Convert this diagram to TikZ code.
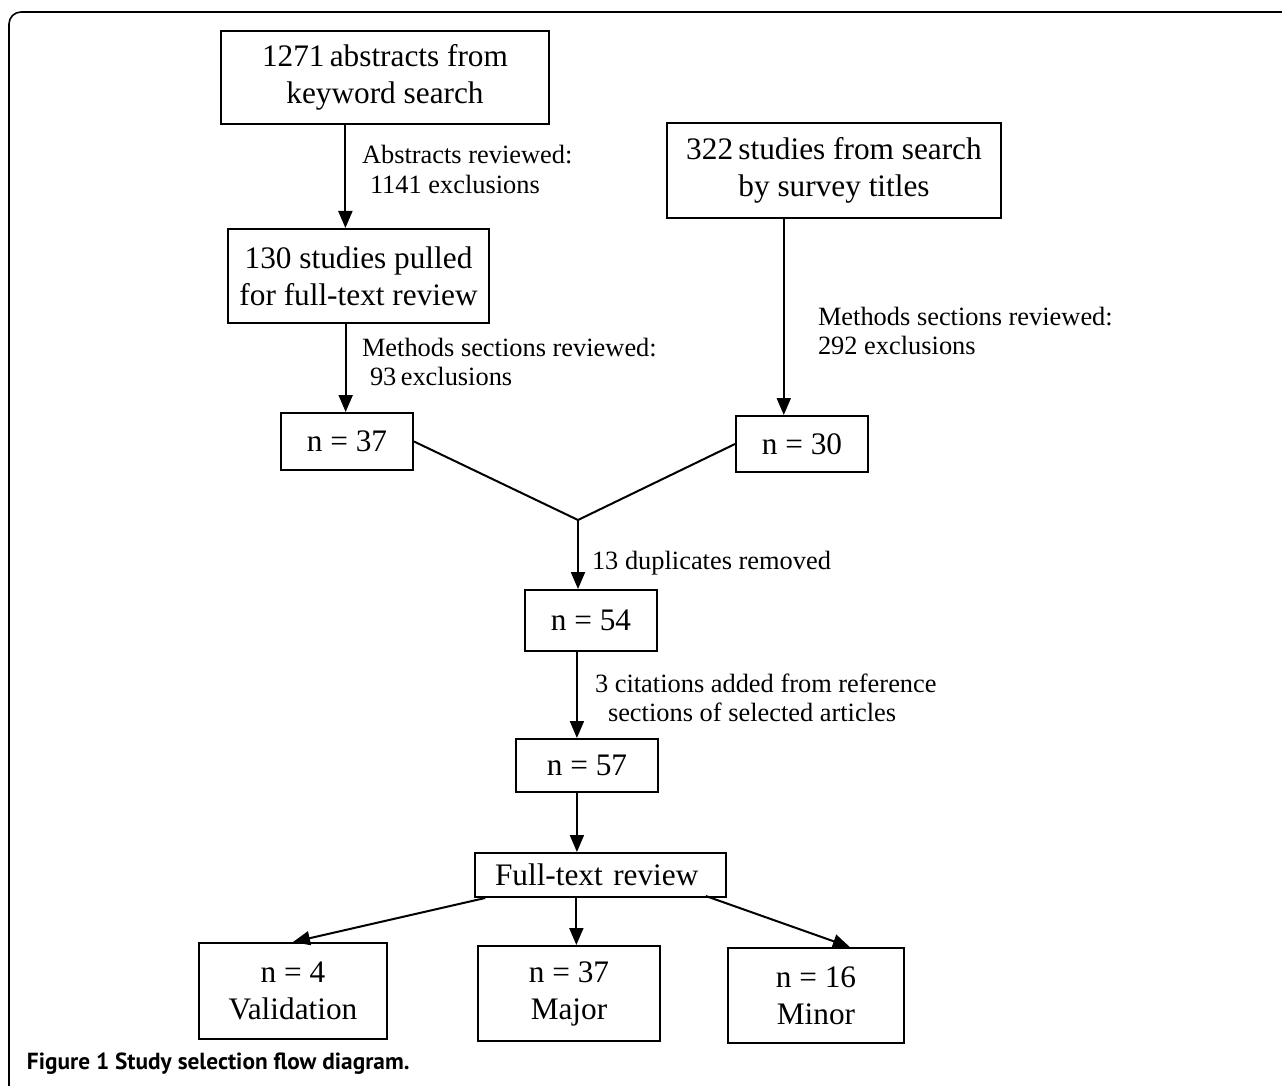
\documentclass[tikz,border=0pt]{standalone}
\usepackage{fontspec}
\setmainfont{Liberation Serif}
\newfontfamily\capfont{PT Sans}
\usetikzlibrary{arrows.meta,calc}
\begin{document}
\begin{tikzpicture}[x=1pt,y=-1pt,
  line width=2pt,
  box/.style={draw, inner sep=0pt, align=center, font=\fontsize{31.3}{37}\selectfont},
  lbl/.style={inner sep=0pt, anchor=west, align=left, font=\fontsize{26.4}{29.5}\selectfont},
  arr/.style={-{Triangle[length=17pt,width=14pt]}}]
\useasboundingbox (0,0) rectangle (1282,1086);
\draw[line width=1.6pt, rounded corners=12pt] (9,1086) -- (9,12) -- (1282,12);

\node[box, minimum width=328, minimum height=93] (A) at (385,77.5) {1271\,abstracts from\\keyword search};
\node[box, minimum width=261, minimum height=94] (B) at (358.5,276) {130 studies pulled\\for full-text review};
\node[box, minimum width=334, minimum height=95] (E) at (834,170.5) {322\,studies from search\\by survey titles};
\node[box, minimum width=132, minimum height=57] (C) at (347,441.5) {n = 37};
\node[box, minimum width=132, minimum height=56] (D) at (802,444) {n = 30};
\node[box, minimum width=132, minimum height=61] (F) at (591,620.5) {n = 54};
\node[box, minimum width=142, minimum height=53] (G) at (587,765.5) {n = 57};
\node[box, minimum width=251, minimum height=44, text width=251, align=left] (H) at (600.5,875) {\hspace*{20pt}Full-text review};
\node[box, minimum width=188, minimum height=96] (I) at (293,991) {n = 4\\Validation};
\node[box, minimum width=182, minimum height=95] (J) at (569,993.5) {n = 37\\Major};
\node[box, minimum width=176, minimum height=95] (K) at (816,995.5) {n = 16\\Minor};

\coordinate (j) at (578,520);

% A -> B
\coordinate (a1) at ($(A.south west)!0.38!(A.south east)$);
\draw[arr] (a1) -- (a1 |- B.north);
\node[lbl] (la) at (361,169.5) {Abstracts reviewed:\\\hspace*{8pt}1141 exclusions};
% B -> C
\coordinate (b1) at ($(C.north west)!0.49!(C.north east)$);
\draw[arr] (b1 |- B.south) -- (b1);
\node[lbl] (lb) at (361,362) {Methods sections reviewed:\\\hspace*{8pt}93\,exclusions};
% E -> D
\coordinate (d1) at ($(D.north west)!0.364!(D.north east)$);
\draw[arr] (d1 |- E.south) -- (d1);
\node[lbl] (le) at (817,331) {Methods sections reviewed:\\292 exclusions};
% merge
\draw (C.east) -- (j) -- (D.west);
\draw[arr] (j) -- (j |- F.north);
\node[lbl] (lj) at (591,563) {13 duplicates removed};
% F -> G
\coordinate (f1) at ($(G.north west)!0.43!(G.north east)$);
\draw[arr] (f1 |- F.south) -- (f1);
\node[lbl] (lf) at (594,698) {3 citations added from reference\\\hspace*{13pt}sections of selected articles};
% G -> H
\draw[arr] (f1 |- G.south) -- (f1 |- H.north);
% H -> I, J, K
\coordinate (h1) at ($(H.south west)!0.044!(H.south east)$);
\draw[arr] (h1) -- (I.north);
\coordinate (h2) at ($(J.north west)!0.54!(J.north east)$);
\draw[arr] (h2 |- H.south) -- (h2);
\coordinate (h3) at ($(H.south west)!0.916!(H.south east)+(0,-2)$);
\coordinate (k1) at ($(K.north west)!0.69!(K.north east)$);
\draw[arr] (h3) -- (k1);

\node[inner sep=0pt, anchor=west, font=\capfont\bfseries\fontsize{23.3}{26}\selectfont] (cap) at (26,1064) {Figure 1 Study selection flow diagram.};
\end{tikzpicture}
\end{document}
